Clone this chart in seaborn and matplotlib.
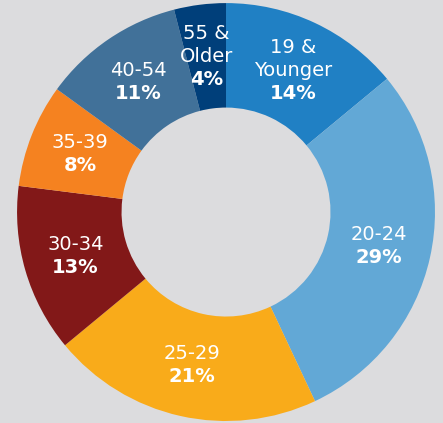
import numpy as np
import matplotlib
matplotlib.use("Agg")
import matplotlib.pyplot as plt
import seaborn as sns

# age groups, clockwise from 12 o'clock
categories = ["19 &\nYounger", "20-24", "25-29", "30-34", "35-39", "40-54", "55 &\nOlder"]
shares = [14, 29, 21, 13, 8, 11, 4]
colors = ["#2080c4", "#62a8d6", "#f9ab1a", "#821818", "#f58220", "#417199", "#003f7a"]

sns.set_theme(style="white")
plt.rcParams["font.family"] = ["DejaVu Sans"]

bg = "#dcdcde"
fig = plt.figure(figsize=(4.43, 4.23), dpi=100, facecolor=bg)
ax = fig.add_axes([0.0384, 0.0047, 0.9436, 0.988])
ax.set_facecolor(bg)

palette = sns.color_palette(colors)
wedges, _ = ax.pie(shares, colors=palette, startangle=90, counterclock=False,
                   radius=1.0, wedgeprops=dict(width=0.5, linewidth=0))

line_h = 0.11
for w, name, pct in zip(wedges, categories, shares):
    mid = np.deg2rad((w.theta1 + w.theta2) / 2)
    x, y = 0.75 * np.cos(mid), 0.75 * np.sin(mid)
    lines = name.split("\n")
    n = len(lines) + 1
    top = y + (n - 1) / 2 * line_h
    for i, ln in enumerate(lines):
        ax.text(x, top - i * line_h, ln, ha="center", va="center",
                color="white", fontsize=14)
    ax.text(x, top - len(lines) * line_h, f"{pct}%", ha="center", va="center",
            color="white", fontsize=14, fontweight="bold")

ax.set_xlim(-1, 1)
ax.set_ylim(-1, 1)
ax.set_aspect("equal")
ax.axis("off")

fig.savefig("out.png", dpi=100, facecolor=bg)
